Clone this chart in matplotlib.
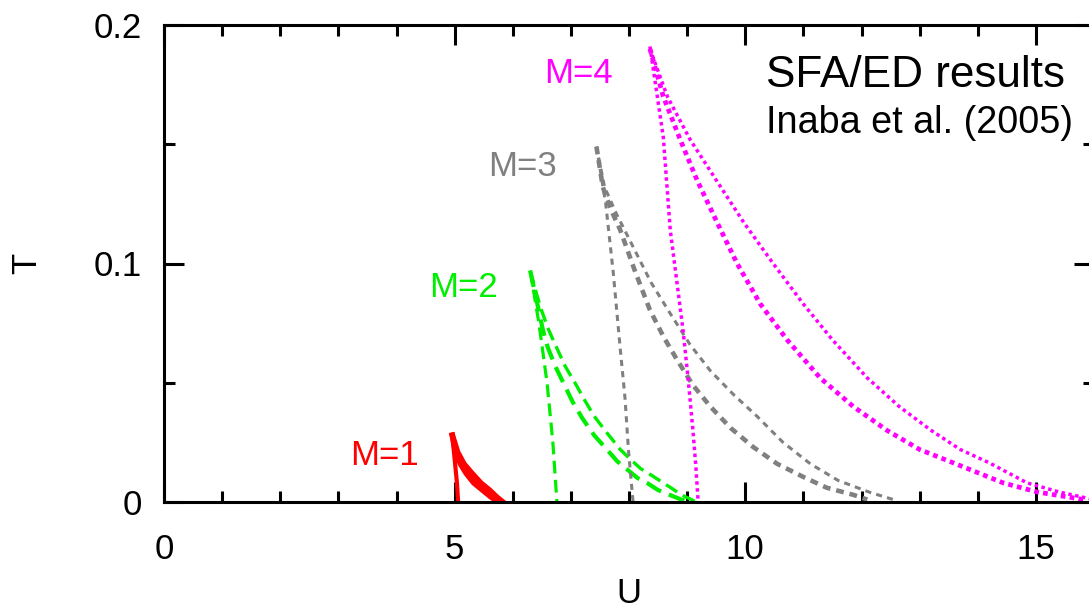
import matplotlib
matplotlib.use("Agg")
import matplotlib.pyplot as plt
from matplotlib.ticker import MultipleLocator, FixedLocator, FixedFormatter

plt.rcParams['font.family'] = ['Liberation Sans', 'DejaVu Sans']

# colours
red = '#ff0000'
green = '#00ee00'
grey = '#808080'
magenta = '#ff00ff'

# ---- data (U, T) ----
# M=1
m1_steep_u = [4.96, 5.00, 5.04, 5.06]
m1_steep_t = [0.028, 0.018, 0.008, 0.0]
m1_a_u = [4.96, 4.99, 5.02, 5.10, 5.20, 5.33, 5.48, 5.62, 5.75]
m1_a_t = [0.028, 0.024, 0.021, 0.016, 0.012, 0.008, 0.005, 0.0022, 0.0]
m1_b_u = [4.96, 5.00, 5.05, 5.16, 5.30, 5.45, 5.60, 5.72, 5.83]
m1_b_t = [0.028, 0.025, 0.021, 0.016, 0.012, 0.008, 0.005, 0.0022, 0.0]

# M=2
m2_steep_u = [6.30, 6.45, 6.59, 6.69, 6.76]
m2_steep_t = [0.097, 0.075, 0.050, 0.025, 0.0]
m2_a_u = [6.30, 6.38, 6.45, 6.52, 6.60, 6.73, 6.87, 7.03, 7.20, 7.40,
          7.62, 7.80, 8.00, 8.15, 8.31, 8.50, 8.70, 8.90, 9.05]
m2_a_t = [0.097, 0.088, 0.080, 0.072, 0.065, 0.057, 0.050, 0.042, 0.035, 0.028,
          0.022, 0.017, 0.013, 0.010, 0.008, 0.005, 0.003, 0.001, 0.0]
m2_b_u = [6.30, 6.40, 6.50, 6.62, 6.75, 6.90, 7.07, 7.23, 7.40, 7.62,
          7.85, 8.02, 8.20, 8.40, 8.59, 8.75, 8.90, 9.05, 9.15]
m2_b_t = [0.097, 0.088, 0.080, 0.072, 0.065, 0.057, 0.050, 0.043, 0.036, 0.029,
          0.022, 0.018, 0.014, 0.011, 0.008, 0.0055, 0.003, 0.0013, 0.0]

# M=3
m3_steep_u = [7.44, 7.60, 7.73, 7.85, 7.93, 7.99, 8.07]
m3_steep_t = [0.149, 0.125, 0.096, 0.064, 0.044, 0.022, 0.0]
m3_a_u = [7.44, 7.55, 7.70, 7.85, 8.10, 8.36, 8.60, 8.83, 9.10, 9.40,
          9.75, 10.14, 10.55, 11.00, 11.40, 11.86, 12.10]
m3_a_t = [0.149, 0.132, 0.122, 0.114, 0.097, 0.0805, 0.069, 0.0595, 0.049, 0.040,
          0.031, 0.023, 0.016, 0.0105, 0.006, 0.003, 0.001]
m3_b_u = [7.44, 7.58, 7.78, 8.07, 8.38, 8.71, 9.05, 9.40, 9.80, 10.20,
          10.65, 11.12, 11.60, 12.15, 12.55]
m3_b_t = [0.149, 0.132, 0.121, 0.107, 0.092, 0.079, 0.066, 0.055, 0.045, 0.036,
          0.025, 0.016, 0.009, 0.004, 0.001]

# M=4
m4_steep_u = [8.36, 8.59, 8.71, 8.82, 8.93, 9.02, 9.10, 9.15, 9.19]
m4_steep_t = [0.191, 0.153, 0.114, 0.093, 0.072, 0.051, 0.030, 0.015, 0.0]
m4_a_u = [8.36, 8.59, 8.88, 9.17, 9.52, 9.86, 10.26, 10.72, 11.29, 11.86,
          12.44, 13.00, 13.58, 14.44, 15.02, 15.88]
m4_a_t = [0.190, 0.170, 0.152, 0.135, 0.117, 0.100, 0.083, 0.068, 0.052, 0.040,
          0.030, 0.022, 0.0164, 0.008, 0.0042, 0.0008]
m4_b_u = [8.36, 8.66, 9.05, 9.50, 9.98, 10.48, 11.00, 11.50, 12.10, 12.65,
          13.20, 13.70, 14.20, 14.85, 15.40, 16.00]
m4_b_t = [0.190, 0.170, 0.152, 0.135, 0.117, 0.100, 0.083, 0.068, 0.052, 0.040,
          0.030, 0.022, 0.0164, 0.008, 0.0042, 0.001]

# ticks
x_major = [0, 5, 10, 15]
y_major = [0, 0.1, 0.2]
y_labels = ['0', '0.1', '0.2']

fig = plt.figure(figsize=(10.89, 6.10), dpi=100)
ax = fig.add_axes([164 / 1089, 108 / 610, 930 / 1089, 477 / 610])

# M=1 solid red
ax.plot(m1_steep_u, m1_steep_t, color=red, lw=3.0)
ax.plot(m1_a_u, m1_a_t, color=red, lw=4.0)
ax.plot(m1_b_u, m1_b_t, color=red, lw=4.0)

# M=2 dashed green
ax.plot(m2_steep_u, m2_steep_t, color=green, lw=2.3, ls=(0, (4, 2)))
ax.plot(m2_a_u, m2_a_t, color=green, lw=3.0, ls=(0, (4, 2)))
ax.plot(m2_b_u, m2_b_t, color=green, lw=2.4, ls=(0, (4, 2)))

# M=3 short-dashed grey
ax.plot(m3_steep_u, m3_steep_t, color=grey, lw=2.2, ls=(0, (2, 1.7)))
ax.plot(m3_a_u, m3_a_t, color=grey, lw=3.3, ls=(0, (1.7, 1.3)))
ax.plot(m3_b_u, m3_b_t, color=grey, lw=2.2, ls=(0, (2, 1.7)))

# M=4 dotted magenta
ax.plot(m4_steep_u, m4_steep_t, color=magenta, lw=2.5, ls=(0, (1, 1.0)))
ax.plot(m4_a_u, m4_a_t, color=magenta, lw=3.4, ls=(0, (1, 0.9)))
ax.plot(m4_b_u, m4_b_t, color=magenta, lw=2.5, ls=(0, (1, 1.0)))

# labels
ax.text(3.80, 0.0197, 'M=1', color=red, fontsize=25, ha='center', va='center')
ax.text(5.15, 0.090, 'M=2', color=green, fontsize=25, ha='center', va='center')
ax.text(6.16, 0.1405, 'M=3', color=grey, fontsize=25, ha='center', va='center')
ax.text(7.13, 0.1795, 'M=4', color=magenta, fontsize=25, ha='center', va='center')
ax.text(10.36, 0.179, 'SFA/ED results', fontsize=31.8, ha='left', va='center')
ax.text(10.36, 0.159, 'Inaba et al. (2005)', fontsize=27.2, ha='left', va='center')

ax.set_xlim(0, 16)
ax.set_ylim(0, 0.2)
ax.xaxis.set_major_locator(FixedLocator(x_major))
ax.xaxis.set_minor_locator(MultipleLocator(1))
ax.yaxis.set_major_locator(FixedLocator(y_major))
ax.yaxis.set_major_formatter(FixedFormatter(y_labels))
ax.yaxis.set_minor_locator(MultipleLocator(0.05))

ax.tick_params(which='both', direction='in', top=True, right=True, width=2.2,
               labelsize=25)
ax.tick_params(which='major', length=14.4)
ax.tick_params(which='minor', length=8)
ax.tick_params(axis='x', which='major', pad=22)
ax.tick_params(axis='y', which='major', pad=16)
for spine in ax.spines.values():
    spine.set_linewidth(2.2)

ax.set_xlabel('U', fontsize=25, labelpad=8)
ax.set_ylabel('T', fontsize=25, labelpad=36)

fig.savefig('out.png', dpi=100)
